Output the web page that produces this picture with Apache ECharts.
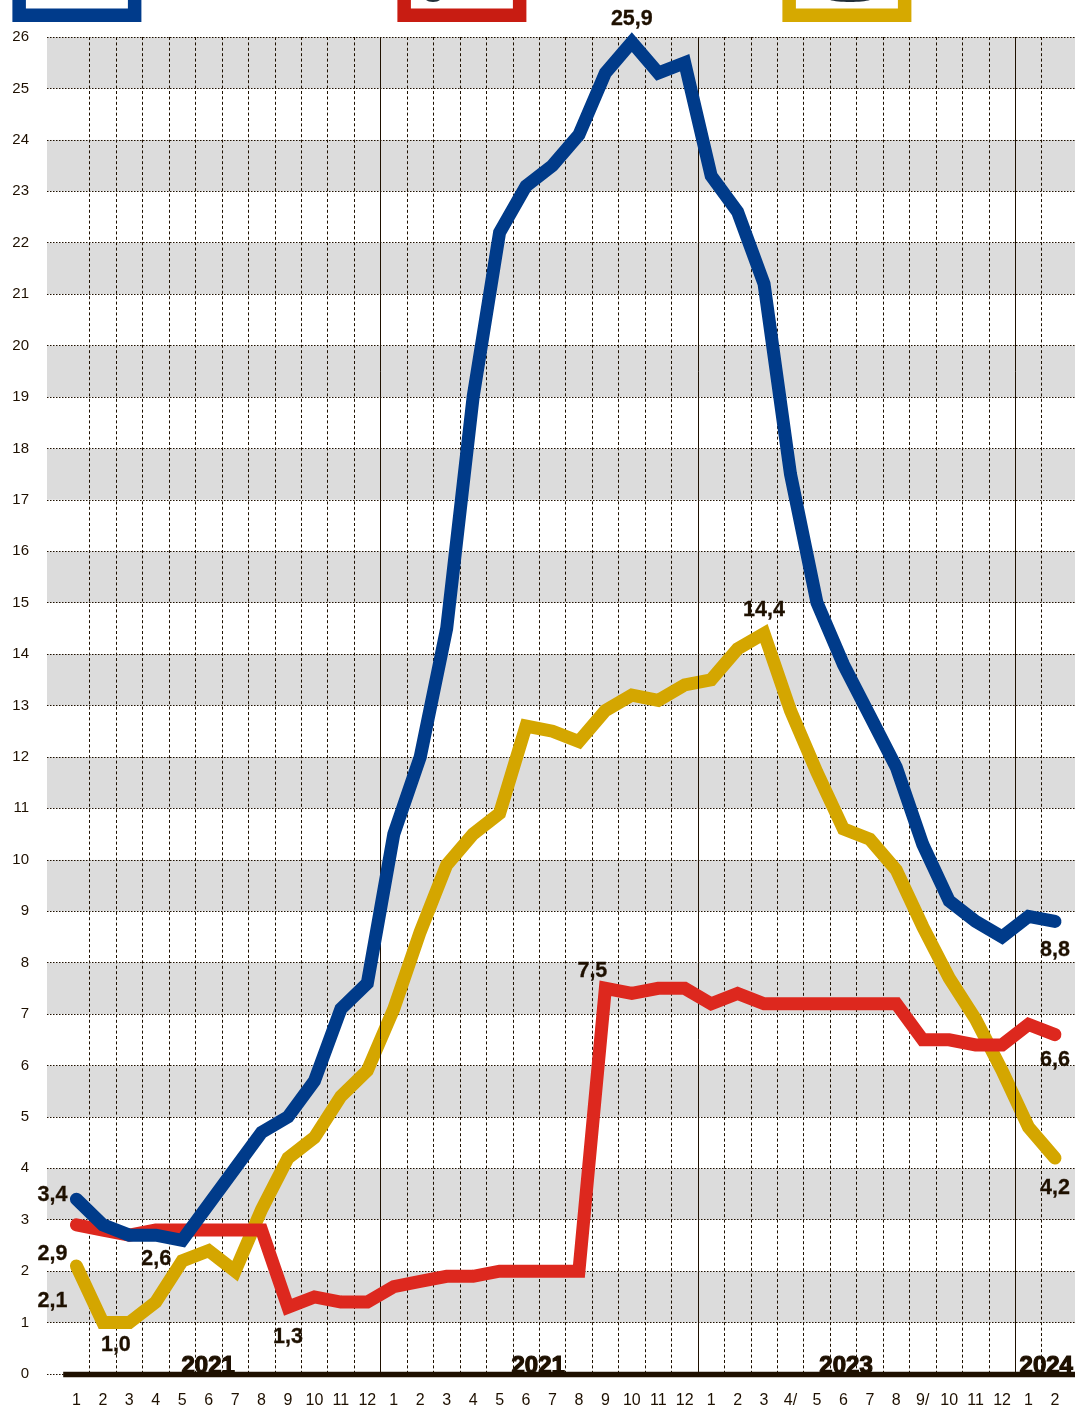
<!DOCTYPE html>
<html><head><meta charset="utf-8">
<style>html,body{margin:0;padding:0;background:#fff}#c{width:1075px;height:1409px}</style>
<script src="https://cdn.jsdelivr.net/npm/echarts@6/dist/echarts.min.js"></script>
</head><body><div id="c"></div>
<script>
const months = ['1','2','3','4','5','6','7','8','9','10','11','12','1','2','3','4','5','6','7','8','9','10','11','12','1','2','3','4/','5','6','7','8','9/','10','11','12','1','2'];
const blueValues = [3.4,2.9,2.7,2.7,2.6,3.3,4.0,4.7,5.0,5.7,7.1,7.6,10.5,12.0,14.5,19.0,22.2,23.1,23.5,24.1,25.3,25.9,25.3,25.5,23.3,22.6,21.2,17.5,15.0,13.8,12.8,11.8,10.3,9.2,8.8,8.5,8.9,8.8];
const redValues = [2.9,2.8,2.7,2.8,2.8,2.8,2.8,2.8,1.3,1.5,1.4,1.4,1.7,1.8,1.9,1.9,2.0,2.0,2.0,2.0,7.5,7.4,7.5,7.5,7.2,7.4,7.2,7.2,7.2,7.2,7.2,7.2,6.5,6.5,6.4,6.4,6.8,6.6];
const goldValues = [2.1,1.0,1.0,1.4,2.2,2.4,2.0,3.2,4.2,4.6,5.4,5.9,7.1,8.6,9.9,10.5,10.9,12.6,12.5,12.3,12.9,13.2,13.1,13.4,13.5,14.1,14.4,12.9,11.7,10.6,10.4,9.8,8.7,7.7,6.9,5.9,4.8,4.2];
const yearLabels = ['2021','2021','2023','2024'];
const yearCenters = [4.98,17.46,29.1,36.67];
const yearBreaks = [11.5,23.5,35.5];
// [month index, value, text, label dx, label dy]
const annotations = [
  [0,3.4,'3,4',-24,-4],[0,2.9,'2,9',-24,29],[0,2.1,'2,1',-24,35],
  [1,1.0,'1,0',13,23],[4,2.6,'2,6',-26,19],[8,1.3,'1,3',0,30],
  [20,7.5,'7,5',-13,-17],[21,25.9,'25,9',0,-23],[26,14.4,'14,4',0,-23],
  [37,8.8,'8,8',0,29],[37,6.6,'6,6',0,25],[37,4.2,'4,2',0,30]
];
(function () {
const ink = '#1e1000';
const font = 'Liberation Sans, Arial, sans-serif';
const left0 = 47, left1 = 63.2, bandW = 26.447, gridTop = 37, gridBottom = 35;
const valMax = (1075 - left1) / bandW - 0.5;
const valMin = (left0 - left1) / bandW - 0.5;
const line = (name, data, color, z) => ({
  name, type: 'line', xAxisIndex: 1, yAxisIndex: 1, data, symbol: 'none', z,
  lineStyle: { color, width: 13, cap: 'round', join: 'miter', miterLimit: 10 }, silent: true, animation: false
});
function box(x, color, blobW, blobX) {
  return [
    { type: 'rect', shape: { x: x + 6.75, y: -30, width: 115.5, height: 45.2 }, style: { fill: '#fff', stroke: color, lineWidth: 13.5 } },
    { type: 'ellipse', shape: { cx: blobX, cy: -2, rx: blobW, ry: 4 }, style: { fill: '#23303a' } }
  ];
}
const chart = echarts.init(document.getElementById('c'), null, { renderer: 'canvas' });
chart.setOption({
  animation: false, backgroundColor: '#fff',
  textStyle: { fontFamily: font },
  grid: [
    { left: left0, right: 0, top: gridTop, bottom: gridBottom },
    { left: left1, width: bandW * 38, top: gridTop, bottom: gridBottom }
  ],
  xAxis: [
    { type: 'value', gridIndex: 0, min: valMin, max: valMax, show: false },
    { type: 'category', gridIndex: 1, data: months, boundaryGap: true,
      axisLine: { show: false }, axisTick: { show: false },
      axisLabel: { interval: 0, color: ink, fontSize: 16, margin: 19, fontFamily: font },
      splitLine: { show: true, interval: 0, showMinLine: false, showMaxLine: false, lineStyle: { color: ink, width: 1, type: [3, 2.4] } } }
  ],
  yAxis: [
    { type: 'value', gridIndex: 0, min: 0, max: 26, interval: 1,
      axisLine: { show: false }, axisTick: { show: false },
      axisLabel: { color: ink, fontSize: 15, margin: 18, fontFamily: font },
      splitLine: { show: true, lineStyle: { color: ink, width: 1, type: [1.5, 1.5] } },
      splitArea: { show: true, areaStyle: { color: ['#ffffff', '#dcdcdc'] } } },
    { type: 'value', gridIndex: 1, min: 0, max: 26, interval: 1, show: false }
  ],
  series: [
    { type: 'scatter', name: 'years', xAxisIndex: 0, yAxisIndex: 0, z: 3, symbolSize: 0, silent: true, itemStyle: { opacity: 1 },
      data: yearLabels.map((t, i) => ({ value: [yearCenters[i], 0], name: t })),
      label: { show: true, position: 'inside', offset: [0, -7.5], formatter: p => p.name, color: ink, opacity: 1, fontFamily: font, fontWeight: 'bold', fontSize: 24, textBorderColor: ink, textBorderWidth: 1.2 } },
    line('Gold', goldValues, '#d4a600', 4),
    line('Red', redValues, '#dd281e', 5),
    line('Blue', blueValues, '#003b8a', 6),
    { type: 'line', name: 'frame', xAxisIndex: 0, yAxisIndex: 0, data: [], z: 7, silent: true,
      markLine: { silent: true, symbol: 'none', animation: false, label: { show: false },
        data: [
          ...yearBreaks.map(x => ({ xAxis: x, lineStyle: { color: ink, width: 1, type: 'solid' } })),
          [{ coord: [-0.5, 0], lineStyle: { color: ink, width: 5.3, type: 'solid' } }, { coord: [valMax, 0] }]
        ] } },
    { type: 'scatter', name: 'annotations', xAxisIndex: 1, yAxisIndex: 1, z: 9, symbolSize: 0, silent: true, itemStyle: { opacity: 1 },
      data: annotations.map(a => ({ value: [a[0], a[1]], name: a[2],
        label: { show: true, position: 'inside', offset: [a[3], a[4]], formatter: a[2], color: ink, opacity: 1, fontFamily: font, fontWeight: 'bold', fontSize: 21.5, textBorderColor: ink, textBorderWidth: 0.3 } })) }
  ],
  graphic: [
    ...box(12.4, '#003b8b', 6, 434).slice(0, 1),
    ...box(397.4, '#c81c12', 8, 433),
    ...box(782.4, '#d6a900', 23, 850)
  ]
});
})();
</script></body></html>
